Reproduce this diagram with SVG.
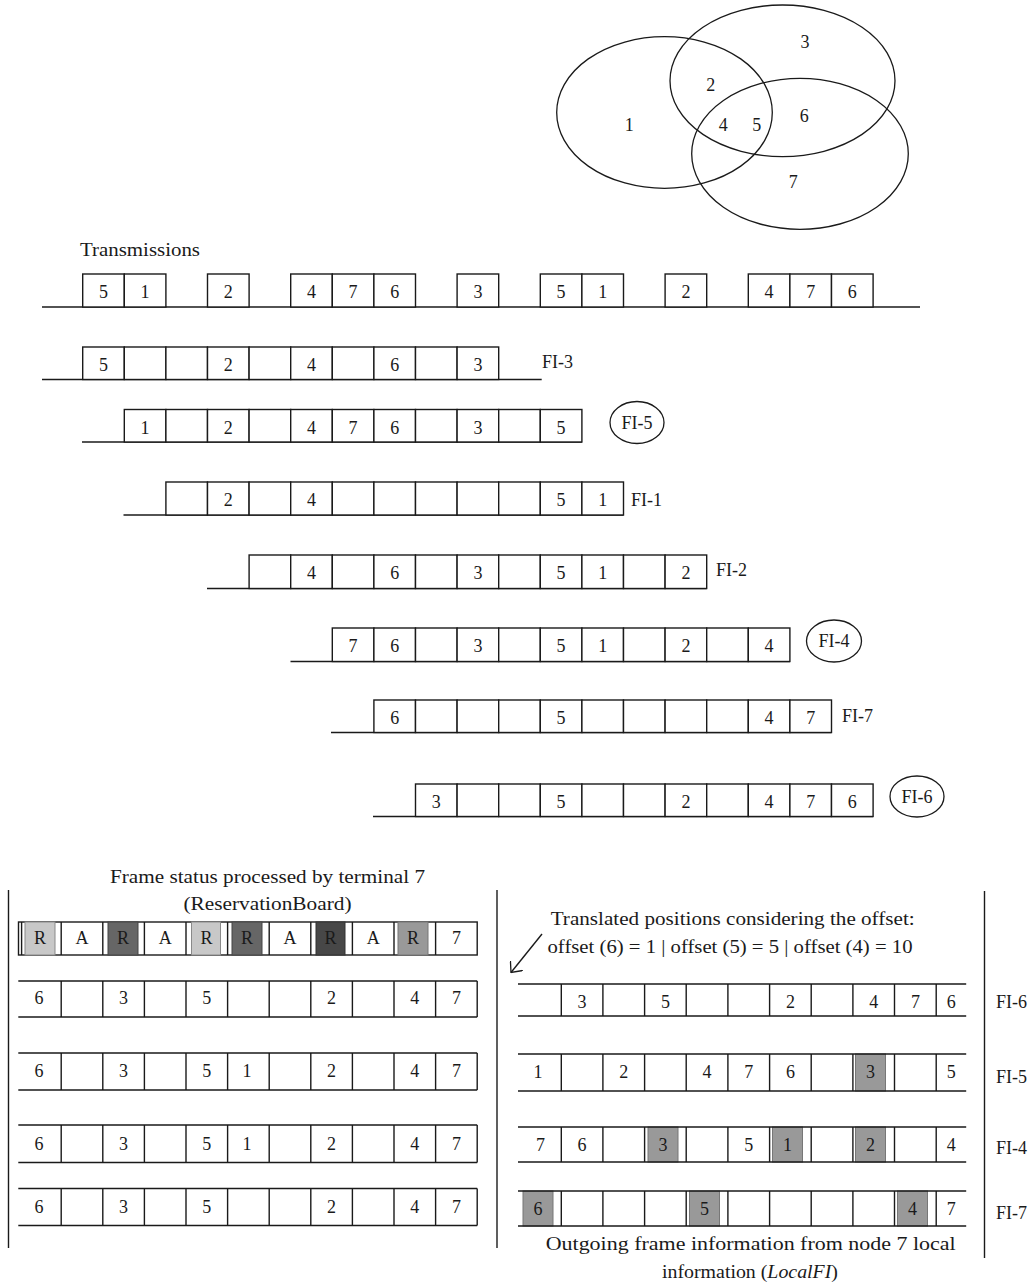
<svg xmlns="http://www.w3.org/2000/svg" width="1035" height="1286" viewBox="0 0 1035 1286">
<style>
.b{fill:#fff;stroke:#1a1a1a;stroke-width:1.4}
.ln{stroke:#1a1a1a;stroke-width:1.4;fill:none}
.el{fill:none;stroke:#1a1a1a;stroke-width:1.3}
.t{font-family:"Liberation Serif","Times New Roman",serif;font-size:18px;fill:#1a1a1a;text-anchor:middle}
.s{font-family:"Liberation Serif","Times New Roman",serif;font-size:18px;fill:#1a1a1a;text-anchor:start}
.sh1{fill:#c8c8c8;stroke:#8a8a8a;stroke-width:1}
.sh2{fill:#666;stroke:#444;stroke-width:1}
.sh3{fill:#474747;stroke:#333;stroke-width:1}
.sh4{fill:#999;stroke:#777;stroke-width:1}
</style>
<defs>
<marker id="arr" viewBox="0 0 10 16" refX="9" refY="8" markerWidth="10" markerHeight="16" markerUnits="userSpaceOnUse" orient="auto"><path d="M0,0 L9,8 L0,16" fill="none" stroke="#1a1a1a" stroke-width="1.3"/></marker>
</defs>
<rect width="1035" height="1286" fill="#fff"/>

<g id="venn">
<ellipse class="el" cx="664.5" cy="112.5" rx="107.8" ry="75.8"/>
<ellipse class="el" cx="782.5" cy="80.8" rx="112.5" ry="75.8"/>
<ellipse class="el" cx="800" cy="153.8" rx="108.3" ry="75.5"/>
<text class="t" x="805" y="48">3</text>
<text class="t" x="710.7" y="91">2</text>
<text class="t" x="629.3" y="131">1</text>
<text class="t" x="723.3" y="131">4</text>
<text class="t" x="756.7" y="131">5</text>
<text class="t" x="804.3" y="122">6</text>
<text class="t" x="793.3" y="188">7</text>
</g>

<g id="transmissions">
<text class="s" x="80" y="256" textLength="120" lengthAdjust="spacingAndGlyphs">Transmissions</text>
<line class="ln" x1="42" y1="307" x2="920" y2="307"/>
<rect class="b" x="82.7" y="274" width="41.6" height="33"/>
<rect class="b" x="124.3" y="274" width="41.6" height="33"/>
<rect class="b" x="207.5" y="274" width="41.6" height="33"/>
<rect class="b" x="290.7" y="274" width="41.6" height="33"/>
<rect class="b" x="332.3" y="274" width="41.6" height="33"/>
<rect class="b" x="373.9" y="274" width="41.6" height="33"/>
<rect class="b" x="457.1" y="274" width="41.6" height="33"/>
<rect class="b" x="540.3" y="274" width="41.6" height="33"/>
<rect class="b" x="581.9" y="274" width="41.6" height="33"/>
<rect class="b" x="665.1" y="274" width="41.6" height="33"/>
<rect class="b" x="748.3" y="274" width="41.6" height="33"/>
<rect class="b" x="789.9" y="274" width="41.6" height="33"/>
<rect class="b" x="831.5" y="274" width="41.6" height="33"/>
<text class="t" x="103.5" y="298">5</text>
<text class="t" x="145.1" y="298">1</text>
<text class="t" x="228.3" y="298">2</text>
<text class="t" x="311.5" y="298">4</text>
<text class="t" x="353.1" y="298">7</text>
<text class="t" x="394.7" y="298">6</text>
<text class="t" x="477.9" y="298">3</text>
<text class="t" x="561.1" y="298">5</text>
<text class="t" x="602.7" y="298">1</text>
<text class="t" x="685.9" y="298">2</text>
<text class="t" x="769.1" y="298">4</text>
<text class="t" x="810.7" y="298">7</text>
<text class="t" x="852.3" y="298">6</text>
</g>

<g id="fi-3">
<line class="ln" x1="42" y1="379.5" x2="541.7" y2="379.5"/>
<rect class="b" x="82.7" y="347" width="41.6" height="32.5"/>
<rect class="b" x="124.3" y="347" width="41.6" height="32.5"/>
<rect class="b" x="165.9" y="347" width="41.6" height="32.5"/>
<rect class="b" x="207.5" y="347" width="41.6" height="32.5"/>
<rect class="b" x="249.1" y="347" width="41.6" height="32.5"/>
<rect class="b" x="290.7" y="347" width="41.6" height="32.5"/>
<rect class="b" x="332.3" y="347" width="41.6" height="32.5"/>
<rect class="b" x="373.9" y="347" width="41.6" height="32.5"/>
<rect class="b" x="415.5" y="347" width="41.6" height="32.5"/>
<rect class="b" x="457.1" y="347" width="41.6" height="32.5"/>
<text class="t" x="103.5" y="371">5</text>
<text class="t" x="228.3" y="371">2</text>
<text class="t" x="311.5" y="371">4</text>
<text class="t" x="394.7" y="371">6</text>
<text class="t" x="477.9" y="371">3</text>
<text class="s" x="542" y="368">FI-3</text>
</g>

<g id="fi-5">
<line class="ln" x1="82" y1="442" x2="581.9" y2="442"/>
<rect class="b" x="124.3" y="409.5" width="41.6" height="32.5"/>
<rect class="b" x="165.9" y="409.5" width="41.6" height="32.5"/>
<rect class="b" x="207.5" y="409.5" width="41.6" height="32.5"/>
<rect class="b" x="249.1" y="409.5" width="41.6" height="32.5"/>
<rect class="b" x="290.7" y="409.5" width="41.6" height="32.5"/>
<rect class="b" x="332.3" y="409.5" width="41.6" height="32.5"/>
<rect class="b" x="373.9" y="409.5" width="41.6" height="32.5"/>
<rect class="b" x="415.5" y="409.5" width="41.6" height="32.5"/>
<rect class="b" x="457.1" y="409.5" width="41.6" height="32.5"/>
<rect class="b" x="498.7" y="409.5" width="41.6" height="32.5"/>
<rect class="b" x="540.3" y="409.5" width="41.6" height="32.5"/>
<text class="t" x="145.1" y="433.5">1</text>
<text class="t" x="228.3" y="433.5">2</text>
<text class="t" x="311.5" y="433.5">4</text>
<text class="t" x="353.1" y="433.5">7</text>
<text class="t" x="394.7" y="433.5">6</text>
<text class="t" x="477.9" y="433.5">3</text>
<text class="t" x="561.1" y="433.5">5</text>
<ellipse class="el" cx="637" cy="422.5" rx="27" ry="21"/>
<text class="t" x="637" y="429">FI-5</text>
</g>

<g id="fi-1">
<line class="ln" x1="123.5" y1="515" x2="623.5" y2="515"/>
<rect class="b" x="165.9" y="482" width="41.6" height="33"/>
<rect class="b" x="207.5" y="482" width="41.6" height="33"/>
<rect class="b" x="249.1" y="482" width="41.6" height="33"/>
<rect class="b" x="290.7" y="482" width="41.6" height="33"/>
<rect class="b" x="332.3" y="482" width="41.6" height="33"/>
<rect class="b" x="373.9" y="482" width="41.6" height="33"/>
<rect class="b" x="415.5" y="482" width="41.6" height="33"/>
<rect class="b" x="457.1" y="482" width="41.6" height="33"/>
<rect class="b" x="498.7" y="482" width="41.6" height="33"/>
<rect class="b" x="540.3" y="482" width="41.6" height="33"/>
<rect class="b" x="581.9" y="482" width="41.6" height="33"/>
<text class="t" x="228.3" y="506">2</text>
<text class="t" x="311.5" y="506">4</text>
<text class="t" x="561.1" y="506">5</text>
<text class="t" x="602.7" y="506">1</text>
<text class="s" x="631" y="506">FI-1</text>
</g>

<g id="fi-2">
<line class="ln" x1="207" y1="588.5" x2="706.7" y2="588.5"/>
<rect class="b" x="249.1" y="555" width="41.6" height="33.5"/>
<rect class="b" x="290.7" y="555" width="41.6" height="33.5"/>
<rect class="b" x="332.3" y="555" width="41.6" height="33.5"/>
<rect class="b" x="373.9" y="555" width="41.6" height="33.5"/>
<rect class="b" x="415.5" y="555" width="41.6" height="33.5"/>
<rect class="b" x="457.1" y="555" width="41.6" height="33.5"/>
<rect class="b" x="498.7" y="555" width="41.6" height="33.5"/>
<rect class="b" x="540.3" y="555" width="41.6" height="33.5"/>
<rect class="b" x="581.9" y="555" width="41.6" height="33.5"/>
<rect class="b" x="623.5" y="555" width="41.6" height="33.5"/>
<rect class="b" x="665.1" y="555" width="41.6" height="33.5"/>
<text class="t" x="311.5" y="579">4</text>
<text class="t" x="394.7" y="579">6</text>
<text class="t" x="477.9" y="579">3</text>
<text class="t" x="561.1" y="579">5</text>
<text class="t" x="602.7" y="579">1</text>
<text class="t" x="685.9" y="579">2</text>
<text class="s" x="716" y="576">FI-2</text>
</g>

<g id="fi-4">
<line class="ln" x1="290.5" y1="661.5" x2="790" y2="661.5"/>
<rect class="b" x="332.3" y="628" width="41.6" height="33.5"/>
<rect class="b" x="373.9" y="628" width="41.6" height="33.5"/>
<rect class="b" x="415.5" y="628" width="41.6" height="33.5"/>
<rect class="b" x="457.1" y="628" width="41.6" height="33.5"/>
<rect class="b" x="498.7" y="628" width="41.6" height="33.5"/>
<rect class="b" x="540.3" y="628" width="41.6" height="33.5"/>
<rect class="b" x="581.9" y="628" width="41.6" height="33.5"/>
<rect class="b" x="623.5" y="628" width="41.6" height="33.5"/>
<rect class="b" x="665.1" y="628" width="41.6" height="33.5"/>
<rect class="b" x="706.7" y="628" width="41.6" height="33.5"/>
<rect class="b" x="748.3" y="628" width="41.6" height="33.5"/>
<text class="t" x="353.1" y="652">7</text>
<text class="t" x="394.7" y="652">6</text>
<text class="t" x="477.9" y="652">3</text>
<text class="t" x="561.1" y="652">5</text>
<text class="t" x="602.7" y="652">1</text>
<text class="t" x="685.9" y="652">2</text>
<text class="t" x="769.1" y="652">4</text>
<ellipse class="el" cx="834" cy="641" rx="27.5" ry="21"/>
<text class="t" x="834" y="647">FI-4</text>
</g>

<g id="fi-7">
<line class="ln" x1="331" y1="732.5" x2="831.5" y2="732.5"/>
<rect class="b" x="373.9" y="700" width="41.6" height="32.5"/>
<rect class="b" x="415.5" y="700" width="41.6" height="32.5"/>
<rect class="b" x="457.1" y="700" width="41.6" height="32.5"/>
<rect class="b" x="498.7" y="700" width="41.6" height="32.5"/>
<rect class="b" x="540.3" y="700" width="41.6" height="32.5"/>
<rect class="b" x="581.9" y="700" width="41.6" height="32.5"/>
<rect class="b" x="623.5" y="700" width="41.6" height="32.5"/>
<rect class="b" x="665.1" y="700" width="41.6" height="32.5"/>
<rect class="b" x="706.7" y="700" width="41.6" height="32.5"/>
<rect class="b" x="748.3" y="700" width="41.6" height="32.5"/>
<rect class="b" x="789.9" y="700" width="41.6" height="32.5"/>
<text class="t" x="394.7" y="724">6</text>
<text class="t" x="561.1" y="724">5</text>
<text class="t" x="769.1" y="724">4</text>
<text class="t" x="810.7" y="724">7</text>
<text class="s" x="842" y="722">FI-7</text>
</g>

<g id="fi-6">
<line class="ln" x1="373" y1="816.5" x2="873.1" y2="816.5"/>
<rect class="b" x="415.5" y="784" width="41.6" height="32.5"/>
<rect class="b" x="457.1" y="784" width="41.6" height="32.5"/>
<rect class="b" x="498.7" y="784" width="41.6" height="32.5"/>
<rect class="b" x="540.3" y="784" width="41.6" height="32.5"/>
<rect class="b" x="581.9" y="784" width="41.6" height="32.5"/>
<rect class="b" x="623.5" y="784" width="41.6" height="32.5"/>
<rect class="b" x="665.1" y="784" width="41.6" height="32.5"/>
<rect class="b" x="706.7" y="784" width="41.6" height="32.5"/>
<rect class="b" x="748.3" y="784" width="41.6" height="32.5"/>
<rect class="b" x="789.9" y="784" width="41.6" height="32.5"/>
<rect class="b" x="831.5" y="784" width="41.6" height="32.5"/>
<text class="t" x="436.3" y="808">3</text>
<text class="t" x="561.1" y="808">5</text>
<text class="t" x="685.9" y="808">2</text>
<text class="t" x="769.1" y="808">4</text>
<text class="t" x="810.7" y="808">7</text>
<text class="t" x="852.3" y="808">6</text>
<ellipse class="el" cx="917" cy="796.5" rx="27" ry="20.5"/>
<text class="t" x="917" y="803">FI-6</text>
</g>

<g id="panel-frames">
<line class="ln" x1="8.5" y1="890" x2="8.5" y2="1248"/>
<line class="ln" x1="497" y1="890" x2="497" y2="1248"/>
<line class="ln" x1="984.5" y1="891" x2="984.5" y2="1258"/>
</g>

<g id="reservation-board">
<text class="t" x="267.5" y="883" textLength="315" lengthAdjust="spacingAndGlyphs">Frame status processed by terminal 7</text>
<text class="t" x="267.5" y="910" textLength="168" lengthAdjust="spacingAndGlyphs">(ReservationBoard)</text>
<rect class="b" x="18.5" y="922" width="458.7" height="33"/>
<rect class="sh1" x="25" y="922" width="30" height="33"/>
<rect class="sh2" x="108" y="922" width="30" height="33"/>
<rect class="sh1" x="191.5" y="922" width="29" height="33"/>
<rect class="sh2" x="232" y="922" width="30" height="33"/>
<rect class="sh3" x="316" y="922" width="29" height="33"/>
<rect class="sh4" x="398" y="922" width="30" height="33"/>
<path class="ln" d="M21.6,922V955M61.2,922V955M102.8,922V955M144.4,922V955M186,922V955M227.6,922V955M269.2,922V955M310.8,922V955M352.4,922V955M394,922V955M435.6,922V955"/>
<text class="t" x="40" y="944">R</text>
<text class="t" x="82" y="944">A</text>
<text class="t" x="123" y="944">R</text>
<text class="t" x="165.2" y="944">A</text>
<text class="t" x="206.5" y="944">R</text>
<text class="t" x="247" y="944">R</text>
<text class="t" x="290" y="944">A</text>
<text class="t" x="330.5" y="944">R</text>
<text class="t" x="373.2" y="944">A</text>
<text class="t" x="413" y="944">R</text>
<text class="t" x="456.4" y="944">7</text>
</g>

<g id="rb-row-1">
<path class="ln" d="M18.3,981H477.2M18.3,1017H477.2M61.2,981V1017M102.8,981V1017M144.4,981V1017M186,981V1017M227.6,981V1017M269.2,981V1017M310.8,981V1017M352.4,981V1017M394,981V1017M435.6,981V1017M477.2,981V1017"/>
<text class="t" x="39" y="1004">6</text>
<text class="t" x="123.6" y="1004">3</text>
<text class="t" x="206.8" y="1004">5</text>
<text class="t" x="331.6" y="1004">2</text>
<text class="t" x="414.8" y="1004">4</text>
<text class="t" x="456.4" y="1004">7</text>
</g>

<g id="rb-row-2">
<path class="ln" d="M18.3,1053H477.2M18.3,1090H477.2M61.2,1053V1090M102.8,1053V1090M144.4,1053V1090M186,1053V1090M227.6,1053V1090M269.2,1053V1090M310.8,1053V1090M352.4,1053V1090M394,1053V1090M435.6,1053V1090M477.2,1053V1090"/>
<text class="t" x="39" y="1077">6</text>
<text class="t" x="123.6" y="1077">3</text>
<text class="t" x="206.8" y="1077">5</text>
<text class="t" x="247" y="1077">1</text>
<text class="t" x="331.6" y="1077">2</text>
<text class="t" x="414.8" y="1077">4</text>
<text class="t" x="456.4" y="1077">7</text>
</g>

<g id="rb-row-3">
<path class="ln" d="M18.3,1125H477.2M18.3,1162.5H477.2M61.2,1125V1162.5M102.8,1125V1162.5M144.4,1125V1162.5M186,1125V1162.5M227.6,1125V1162.5M269.2,1125V1162.5M310.8,1125V1162.5M352.4,1125V1162.5M394,1125V1162.5M435.6,1125V1162.5M477.2,1125V1162.5"/>
<text class="t" x="39" y="1150">6</text>
<text class="t" x="123.6" y="1150">3</text>
<text class="t" x="206.8" y="1150">5</text>
<text class="t" x="247" y="1150">1</text>
<text class="t" x="331.6" y="1150">2</text>
<text class="t" x="414.8" y="1150">4</text>
<text class="t" x="456.4" y="1150">7</text>
</g>

<g id="rb-row-4">
<path class="ln" d="M18.3,1188.5H477.2M18.3,1225.5H477.2M61.2,1188.5V1225.5M102.8,1188.5V1225.5M144.4,1188.5V1225.5M186,1188.5V1225.5M227.6,1188.5V1225.5M269.2,1188.5V1225.5M310.8,1188.5V1225.5M352.4,1188.5V1225.5M394,1188.5V1225.5M435.6,1188.5V1225.5M477.2,1188.5V1225.5"/>
<text class="t" x="39" y="1213">6</text>
<text class="t" x="123.6" y="1213">3</text>
<text class="t" x="206.8" y="1213">5</text>
<text class="t" x="331.6" y="1213">2</text>
<text class="t" x="414.8" y="1213">4</text>
<text class="t" x="456.4" y="1213">7</text>
</g>

<g id="offset-note">
<text class="t" x="732.7" y="924.5" textLength="364" lengthAdjust="spacingAndGlyphs">Translated positions considering the offset:</text>
<text class="t" x="730" y="953" textLength="365" lengthAdjust="spacingAndGlyphs">offset (6) = 1 | offset (5) = 5 | offset (4) = 10</text>
</g>

<g id="local-fi-6">
<path class="ln" d="M518,984H966.2M518,1016H966.2M561.3,984V1016M602.9,984V1016M644.6,984V1016M686.2,984V1016M727.9,984V1016M769.6,984V1016M811.2,984V1016M852.9,984V1016M894.5,984V1016M936.2,984V1016"/>
<text class="t" x="582.1" y="1008">3</text>
<text class="t" x="665.4" y="1008">5</text>
<text class="t" x="790.4" y="1008">2</text>
<text class="t" x="873.7" y="1008">4</text>
<text class="t" x="915.4" y="1008">7</text>
<text class="t" x="951.2" y="1008">6</text>
<text class="s" x="996" y="1008">FI-6</text>
</g>

<g id="local-fi-5">
<rect class="sh4" x="855.5" y="1054" width="30" height="37"/>
<path class="ln" d="M518,1054H966.2M518,1091H966.2M561.3,1054V1091M602.9,1054V1091M644.6,1054V1091M686.2,1054V1091M727.9,1054V1091M769.6,1054V1091M811.2,1054V1091M852.9,1054V1091M894.5,1054V1091M936.2,1054V1091"/>
<text class="t" x="538" y="1078">1</text>
<text class="t" x="623.8" y="1078">2</text>
<text class="t" x="707.1" y="1078">4</text>
<text class="t" x="748.7" y="1078">7</text>
<text class="t" x="790.4" y="1078">6</text>
<text class="t" x="870.5" y="1078">3</text>
<text class="t" x="951.2" y="1078">5</text>
<text class="s" x="996" y="1083">FI-5</text>
</g>

<g id="local-fi-4">
<rect class="sh4" x="648" y="1127" width="30" height="35"/>
<rect class="sh4" x="772.5" y="1127" width="30" height="35"/>
<rect class="sh4" x="855.5" y="1127" width="30" height="35"/>
<path class="ln" d="M518,1127H966.2M518,1162H966.2M561.3,1127V1162M602.9,1127V1162M644.6,1127V1162M686.2,1127V1162M727.9,1127V1162M769.6,1127V1162M811.2,1127V1162M852.9,1127V1162M894.5,1127V1162M936.2,1127V1162"/>
<text class="t" x="540.4" y="1151">7</text>
<text class="t" x="582.1" y="1151">6</text>
<text class="t" x="663" y="1151">3</text>
<text class="t" x="748.7" y="1151">5</text>
<text class="t" x="787.5" y="1151">1</text>
<text class="t" x="870.5" y="1151">2</text>
<text class="t" x="951.2" y="1151">4</text>
<text class="s" x="996" y="1154">FI-4</text>
</g>

<g id="local-fi-7">
<rect class="sh4" x="523" y="1191" width="30" height="35"/>
<rect class="sh4" x="689.5" y="1191" width="30" height="35"/>
<rect class="sh4" x="897.5" y="1191" width="30" height="35"/>
<path class="ln" d="M518,1191H966.2M518,1226H966.2M561.3,1191V1226M602.9,1191V1226M644.6,1191V1226M686.2,1191V1226M727.9,1191V1226M769.6,1191V1226M811.2,1191V1226M852.9,1191V1226M894.5,1191V1226M936.2,1191V1226"/>
<text class="t" x="538" y="1215">6</text>
<text class="t" x="704.5" y="1215">5</text>
<text class="t" x="912.5" y="1215">4</text>
<text class="t" x="951.2" y="1215">7</text>
<text class="s" x="996" y="1219">FI-7</text>
</g>

<g id="localfi-caption">
<text class="t" x="750.7" y="1250" textLength="410" lengthAdjust="spacingAndGlyphs">Outgoing frame information from node 7 local</text>
<text class="t" x="750" y="1278" textLength="176" lengthAdjust="spacingAndGlyphs">information (<tspan font-style="italic">LocalFI</tspan>)</text>
</g>

<g id="connectors">
<line class="ln" x1="542" y1="934" x2="511" y2="972.5" marker-end="url(#arr)"/>
</g>
</svg>
